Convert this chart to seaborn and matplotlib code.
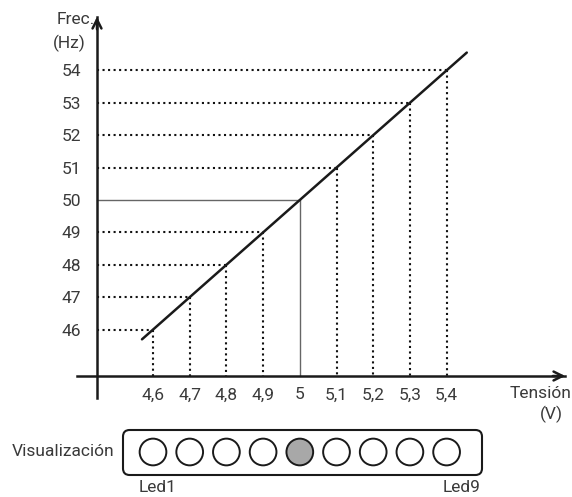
import numpy as np
import pandas as pd
import seaborn as sns
import matplotlib.pyplot as plt
from matplotlib.patches import FancyBboxPatch

# data
volts = [4.6, 4.7, 4.8, 4.9, 5.0, 5.1, 5.2, 5.3, 5.4]
volt_labels = ["4,6", "4,7", "4,8", "4,9", "5", "5,1", "5,2", "5,3", "5,4"]
freqs = [46, 47, 48, 49, 50, 51, 52, 53, 54]
line_v = [4.57, 5.455]        # ends of the drawn characteristic
line_f = [45.7, 54.55]
led_names = ["Led1", "Led2", "Led3", "Led4", "Led5", "Led6", "Led7", "Led8", "Led9"]
led_on = [0, 0, 0, 0, 1, 0, 0, 0, 0]

# pixel calibration of the 572x497 canvas (layout only)
def px2v(px):
    return 4.6 + (px - 153) / 367.0

def py2f(py):
    return 50 + (200 - py) / 32.4

sns.set_theme(style="white")
plt.rcParams['font.family'] = ['Roboto', 'DejaVu Sans']
txt = '#3a3a3a'
fs = 12.5

fig = plt.figure(figsize=(5.72, 4.97), dpi=100)
ax = fig.add_axes([0, 0, 1, 1])
ax.set_xlim(px2v(0), px2v(572))
ax.set_ylim(py2f(497), py2f(0))
ax.patch.set_alpha(0)

ax_v = px2v(97)     # where the y axis sits
ax_f = py2f(376)    # where the x axis sits

# axes as spines
for s in ['top', 'right']:
    ax.spines[s].set_visible(False)
ax.spines['left'].set_position(('data', ax_v))
ax.spines['bottom'].set_position(('data', ax_f))
ax.spines['left'].set_bounds(py2f(398), py2f(17))
ax.spines['bottom'].set_bounds(px2v(77), px2v(565))
for s in ['left', 'bottom']:
    ax.spines[s].set_linewidth(1.8)
    ax.spines[s].set_color('#1a1a1a')
    ax.spines[s].set_zorder(5)

ax.set_xticks(volts)
ax.set_xticklabels(volt_labels)
ax.set_yticks(freqs)
ax.set_yticklabels([str(f) for f in freqs])
ax.tick_params(axis='both', direction='inout', length=10.5, width=3.0,
               color='#1a1a1a', labelsize=fs, labelcolor=txt)
ax.tick_params(axis='y', pad=6)
ax.tick_params(axis='x', pad=3)

# arrow heads
ax.annotate('', xy=(px2v(568), ax_f), xytext=(px2v(550), ax_f),
            arrowprops=dict(arrowstyle='->', lw=1.8, color='#1a1a1a', mutation_scale=16))
ax.annotate('', xy=(ax_v, py2f(14)), xytext=(ax_v, py2f(32)),
            arrowprops=dict(arrowstyle='->', lw=1.8, color='#1a1a1a', mutation_scale=16))

# guide lines
for v, f in zip(volts, freqs):
    if f == 50:
        ax.plot([ax_v, v], [f, f], color='#666666', lw=1.0, zorder=2)
        ax.plot([v, v], [f, ax_f], color='#666666', lw=1.0, zorder=2)
    else:
        ax.plot([ax_v, v], [f, f], color='#111111', lw=1.5, ls=':', zorder=2)
        ax.plot([v, v], [f, ax_f], color='#111111', lw=1.5, ls=':', zorder=2)

# characteristic line
sns.lineplot(x=line_v, y=line_f, ax=ax, color='#1a1a1a', lw=1.8, zorder=4)

# axis titles
ax.text(px2v(95), py2f(19), "Frec.", ha='right', va='center', fontsize=fs, color=txt)
ax.text(px2v(69), py2f(43), "(Hz)", ha='center', va='center', fontsize=fs, color=txt)
ax.text(px2v(571), py2f(393), "Tensión", ha='right', va='center', fontsize=fs, color=txt)
ax.text(px2v(551), py2f(414), "(V)", ha='center', va='center', fontsize=fs, color=txt)

# LED panel
led_y = py2f(452)
box = FancyBboxPatch((px2v(123), py2f(475)), px2v(482) - px2v(123), py2f(430) - py2f(475),
                     boxstyle="round,pad=0,rounding_size=0.018",
                     mutation_aspect=(1 / 32.4) / (1 / 367.0),
                     fc='white', ec='#1a1a1a', lw=1.5, zorder=3)
ax.add_patch(box)
leds = pd.DataFrame({'v': volts, 'f': [led_y] * len(volts), 'on': led_on, 'name': led_names})
sns.scatterplot(data=leds, x='v', y='f', hue='on', palette={0: 'white', 1: '#a8a8a8'},
                s=370, edgecolor='#1a1a1a', linewidth=1.4, legend=False, ax=ax, zorder=6)
ax.text(px2v(114), led_y, "Visualización", ha='right', va='center', fontsize=fs, color=txt)
ax.text(volts[0] + 0.013, py2f(487), led_names[0], ha='center', va='center', fontsize=fs, color=txt)
ax.text(volts[-1] + 0.04, py2f(487), led_names[-1], ha='center', va='center', fontsize=fs, color=txt)

ax.set_xlabel('')
ax.set_ylabel('')
plt.savefig("out.png", dpi=100)
